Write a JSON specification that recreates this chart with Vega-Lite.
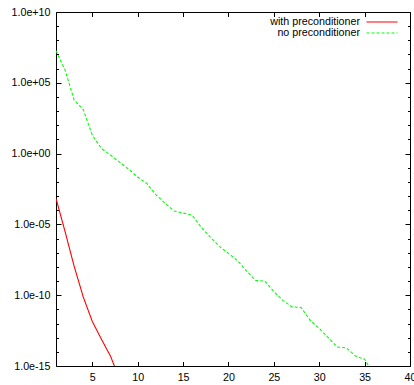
{
  "$schema": "https://vega.github.io/schema/vega-lite/v6.json",
  "width": 354,
  "height": 354,
  "autosize": {"type": "none"},
  "padding": {"left": 56, "top": 12, "right": 4, "bottom": 19},
  "background": "white",
  "config": {
    "view": {"stroke": null},
    "font": "Liberation Sans",
    "axis": {"grid": false, "domainColor": "black", "tickColor": "black", "labelColor": "black", "labelFont": "Liberation Sans", "labelFontSize": 10.7, "title": null, "labelOverlap": false, "labelFlush": false}
  },
  "data": {
    "values": [
      {"it": 1, "res": 1.86e7, "s": "no preconditioner"},
      {"it": 2, "res": 7.9e5, "s": "no preconditioner"},
      {"it": 3, "res": 6.0e3, "s": "no preconditioner"},
      {"it": 4, "res": 1.3e3, "s": "no preconditioner"},
      {"it": 5, "res": 20, "s": "no preconditioner"},
      {"it": 6, "res": 2.3, "s": "no preconditioner"},
      {"it": 7, "res": 0.79, "s": "no preconditioner"},
      {"it": 8, "res": 0.25, "s": "no preconditioner"},
      {"it": 9, "res": 0.079, "s": "no preconditioner"},
      {"it": 10, "res": 0.022, "s": "no preconditioner"},
      {"it": 11, "res": 7.8e-3, "s": "no preconditioner"},
      {"it": 12, "res": 1.26e-3, "s": "no preconditioner"},
      {"it": 13, "res": 3.2e-4, "s": "no preconditioner"},
      {"it": 14, "res": 8.9e-5, "s": "no preconditioner"},
      {"it": 15, "res": 6.3e-5, "s": "no preconditioner"},
      {"it": 16, "res": 4.5e-5, "s": "no preconditioner"},
      {"it": 17, "res": 6.3e-6, "s": "no preconditioner"},
      {"it": 18, "res": 1.26e-6, "s": "no preconditioner"},
      {"it": 19, "res": 2.8e-7, "s": "no preconditioner"},
      {"it": 20, "res": 8.9e-8, "s": "no preconditioner"},
      {"it": 21, "res": 2.8e-8, "s": "no preconditioner"},
      {"it": 22, "res": 5.0e-9, "s": "no preconditioner"},
      {"it": 23, "res": 1.1e-9, "s": "no preconditioner"},
      {"it": 24, "res": 1.0e-9, "s": "no preconditioner"},
      {"it": 25, "res": 1.8e-10, "s": "no preconditioner"},
      {"it": 26, "res": 4.3e-11, "s": "no preconditioner"},
      {"it": 27, "res": 1.5e-11, "s": "no preconditioner"},
      {"it": 28, "res": 1.35e-11, "s": "no preconditioner"},
      {"it": 29, "res": 1.7e-12, "s": "no preconditioner"},
      {"it": 30, "res": 4.5e-13, "s": "no preconditioner"},
      {"it": 31, "res": 1.0e-13, "s": "no preconditioner"},
      {"it": 32, "res": 2.2e-14, "s": "no preconditioner"},
      {"it": 33, "res": 1.9e-14, "s": "no preconditioner"},
      {"it": 34, "res": 5.0e-15, "s": "no preconditioner"},
      {"it": 35, "res": 3.0e-15, "s": "no preconditioner"},
      {"it": 36, "res": 2.5e-16, "s": "no preconditioner"},
      {"it": 1, "res": 6.8e-4, "s": "with preconditioner"},
      {"it": 2, "res": 3.1e-6, "s": "with preconditioner"},
      {"it": 3, "res": 1.1e-8, "s": "with preconditioner"},
      {"it": 4, "res": 7.6e-11, "s": "with preconditioner"},
      {"it": 5, "res": 1.4e-12, "s": "with preconditioner"},
      {"it": 6, "res": 7.9e-14, "s": "with preconditioner"},
      {"it": 7, "res": 5.0e-15, "s": "with preconditioner"},
      {"it": 8, "res": 1.26e-16, "s": "with preconditioner"}
    ]
  },
  "layer": [
    {
      "mark": {"type": "line", "clip": true, "strokeWidth": 1.1},
      "encoding": {
        "x": {"field": "it", "type": "quantitative", "scale": {"domain": [1, 40], "nice": false, "zero": false},
          "axis": {"orient": "bottom", "values": [5, 10, 15, 20, 25, 30, 35, 40], "tickSize": -4.5, "labelPadding": 11}},
        "y": {"field": "res", "type": "quantitative", "scale": {"type": "log", "domain": [1e-15, 1e10], "nice": false},
          "axis": {"orient": "left",
            "values": [1e-15, 1e-14, 1e-13, 1e-12, 1e-11, 1e-10, 1e-9, 1e-8, 1e-7, 1e-6, 1e-5, 1e-4, 1e-3, 1e-2, 1e-1, 1, 10, 100, 1e3, 1e4, 1e5, 1e6, 1e7, 1e8, 1e9, 1e10],
            "tickSize": {"condition": {"test": "round(log(datum.value)/LN10) % 5 == 0", "value": -5}, "value": -2.5},
            "labelPadding": 11,
            "labelExpr": "(round(log(datum.value)/LN10) % 5 == 0) ? ('1.0e' + (datum.value >= 1 ? '+' : '-') + (abs(round(log(datum.value)/LN10)) < 10 ? '0' : '') + abs(round(log(datum.value)/LN10))) : ''"}},
        "color": {"field": "s", "type": "nominal",
          "scale": {"domain": ["with preconditioner", "no preconditioner"], "range": ["#ff0000", "#00ff00"]},
          "legend": {"orient": "none", "legendX": 320, "legendY": 4, "title": null, "padding": 0, "direction": "vertical",
            "symbolType": "M-3.1,0H3.1", "symbolSize": 100, "symbolStrokeWidth": 1.1, "rowPadding": 0,
            "labelFont": "Liberation Sans", "labelFontSize": 10.7, "labelColor": "black",
            "encode": {
              "labels": {"update": {"x": {"value": -16}, "align": {"value": "right"}}},
              "symbols": {"update": {"stroke": {"scale": "color", "field": "value"}}}
            }}},
        "strokeDash": {"field": "s", "type": "nominal",
          "scale": {"domain": ["with preconditioner", "no preconditioner"], "range": [[1, 0], [3, 2]]}}
      }
    },
    {
      "mark": {"type": "point", "opacity": 0},
      "encoding": {
        "x": {"field": "it", "type": "quantitative", "scale": {"domain": [1, 40], "nice": false, "zero": false},
          "axis": {"orient": "top", "values": [5, 10, 15, 20, 25, 30, 35, 40], "tickSize": -4.5, "labels": false}},
        "y": {"field": "res", "type": "quantitative", "scale": {"type": "log", "domain": [1e-15, 1e10], "nice": false},
          "axis": {"orient": "right",
            "values": [1e-15, 1e-14, 1e-13, 1e-12, 1e-11, 1e-10, 1e-9, 1e-8, 1e-7, 1e-6, 1e-5, 1e-4, 1e-3, 1e-2, 1e-1, 1, 10, 100, 1e3, 1e4, 1e5, 1e6, 1e7, 1e8, 1e9, 1e10],
            "tickSize": {"condition": {"test": "round(log(datum.value)/LN10) % 5 == 0", "value": -5}, "value": -2.5},
            "labels": false}}
      }
    }
  ],
  "resolve": {"scale": {"x": "independent", "y": "independent"}, "axis": {"x": "independent", "y": "independent"}}
}
